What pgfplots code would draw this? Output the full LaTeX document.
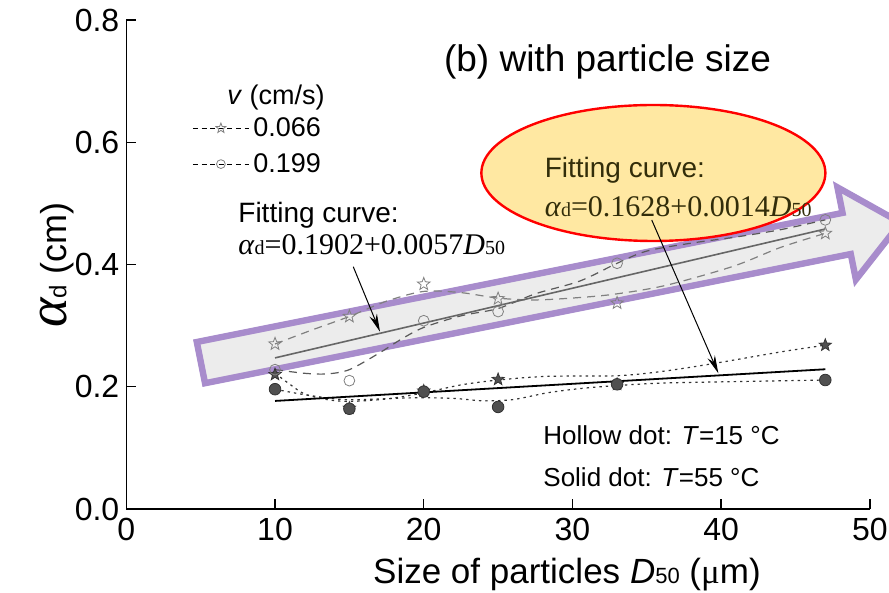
\documentclass[border=0pt]{standalone}
\usepackage{pgfplots}
\pgfplotsset{compat=1.18}
\usepackage{fontspec}
\setmainfont{Liberation Sans}
\newfontfamily\tnr{Liberation Serif}
\usetikzlibrary{arrows.meta}
\newcommand\fs[1]{\fontsize{#1}{#1}\selectfont}
\definecolor{purp}{RGB}{168,140,204}
\definecolor{arrowgray}{RGB}{236,236,236}
\definecolor{ellfill}{RGB}{255,232,162}
\definecolor{olivetext}{RGB}{50,45,10}
\definecolor{solidgray}{RGB}{80,80,80}
\pgfdeclareplotmark{ostar}{%
 \pgfpathmoveto{\pgfpointpolar{90}{\pgfplotmarksize}}%
 \pgfpathlineto{\pgfpointpolar{126}{0.42\pgfplotmarksize}}%
 \pgfpathlineto{\pgfpointpolar{162}{\pgfplotmarksize}}%
 \pgfpathlineto{\pgfpointpolar{198}{0.42\pgfplotmarksize}}%
 \pgfpathlineto{\pgfpointpolar{234}{\pgfplotmarksize}}%
 \pgfpathlineto{\pgfpointpolar{270}{0.42\pgfplotmarksize}}%
 \pgfpathlineto{\pgfpointpolar{306}{\pgfplotmarksize}}%
 \pgfpathlineto{\pgfpointpolar{342}{0.42\pgfplotmarksize}}%
 \pgfpathlineto{\pgfpointpolar{18}{\pgfplotmarksize}}%
 \pgfpathlineto{\pgfpointpolar{54}{0.42\pgfplotmarksize}}%
 \pgfpathclose\pgfusepathqstroke}
\pgfdeclareplotmark{fstar}{%
 \pgfpathmoveto{\pgfpointpolar{90}{\pgfplotmarksize}}%
 \pgfpathlineto{\pgfpointpolar{126}{0.42\pgfplotmarksize}}%
 \pgfpathlineto{\pgfpointpolar{162}{\pgfplotmarksize}}%
 \pgfpathlineto{\pgfpointpolar{198}{0.42\pgfplotmarksize}}%
 \pgfpathlineto{\pgfpointpolar{234}{\pgfplotmarksize}}%
 \pgfpathlineto{\pgfpointpolar{270}{0.42\pgfplotmarksize}}%
 \pgfpathlineto{\pgfpointpolar{306}{\pgfplotmarksize}}%
 \pgfpathlineto{\pgfpointpolar{342}{0.42\pgfplotmarksize}}%
 \pgfpathlineto{\pgfpointpolar{18}{\pgfplotmarksize}}%
 \pgfpathlineto{\pgfpointpolar{54}{0.42\pgfplotmarksize}}%
 \pgfpathclose\pgfusepathqfillstroke}
\begin{document}
\begin{tikzpicture}
\begin{axis}[
  set layers,
  scale only axis,
  width=371.8pt, height=244.5pt,
  xmin=0, xmax=50, ymin=0, ymax=0.8,
  axis x line*=bottom, axis y line*=left,
  axis line style={-, line width=0.8pt},
  xtick={0,10,20,30,40,50},
  ytick={0,0.2,0.4,0.6,0.8},
  tick align=inside,
  major tick length=5pt,
  tick style={line width=0.7pt, black},
  /pgf/number format/assume math mode=true,
  yticklabel style={/pgf/number format/.cd, fixed, fixed zerofill, precision=1},
  ticklabel style={font=\fs{16}},
  xticklabel style={yshift=-1pt},
  clip=false,
  legend style={at={(axis cs:4.418,0.648)}, anchor=north west, draw=none, fill=none,
    inner sep=0pt, font=\fs{13.5}, row sep=3pt, nodes={inner sep=2pt}},
  legend cell align=left,
  legend image code/.code={\draw[mark repeat=2,mark phase=2,#1] plot coordinates {(0pt,0pt) (14pt,0pt) (28pt,0pt)};},
]
% big decorative arrow behind the data
\begin{pgfonlayer}{axis background}
\draw[line width=3.2pt, draw=purp, fill=arrowgray, line join=miter, miter limit=4]
  (axis cs:5.295,0.2058) -- (axis cs:48.714,0.4171) -- (axis cs:49.057,0.3753) --
  (axis cs:52.064,0.4684) -- (axis cs:47.817,0.5262) -- (axis cs:48.160,0.4844) --
  (axis cs:4.741,0.2732) -- cycle;
\end{pgfonlayer}

% legend entries
\addlegendimage{black, dash pattern=on 2.5pt off 1.8pt, line width=0.5pt, mark=ostar, mark size=2.6pt, mark options={solid, draw=gray, line width=0.4pt}}
\addlegendentry{0.066}
\addlegendimage{black, dash pattern=on 2.5pt off 1.8pt, line width=0.5pt, mark=o, mark size=2.2pt, mark options={solid, draw=gray, line width=0.4pt}}
\addlegendentry{0.199}

% smoothed dashed curves (T = 15 C)
\addplot[forget plot, gray, line width=0.6pt, dash pattern=on 4pt off 3pt, smooth, tension=0.5] coordinates {
 (10,0.270) (12.5,0.293) (15,0.315) (17.5,0.340) (20,0.356) (22.5,0.354) (25,0.345)
 (27.5,0.342) (30.5,0.346) (33,0.352) (36.3,0.366) (40.8,0.397) (44,0.428) (47,0.451)};
\addplot[forget plot, black!65, line width=0.6pt, dash pattern=on 4pt off 3pt, smooth, tension=0.5] coordinates {
 (10,0.228) (12,0.222) (13.5,0.221) (15,0.228) (17,0.255) (18.5,0.278) (20,0.297)
 (22.5,0.316) (25,0.328) (27.5,0.352) (30.5,0.373) (33,0.402) (35,0.422) (38,0.435)
 (41,0.445) (44,0.457) (47,0.473)};
% smoothed dotted curves (T = 55 C)
\addplot[forget plot, black!80, line width=0.6pt, dash pattern=on 1.2pt off 2pt, smooth, tension=0.5] coordinates {
 (10,0.222) (11,0.204) (12,0.188) (13.5,0.179) (15,0.176) (17.5,0.180) (20,0.190)
 (22.5,0.203) (25,0.211) (28.3,0.217) (33,0.218) (36,0.225) (39.5,0.238) (44,0.257) (47,0.268)};
\addplot[forget plot, black!80, line width=0.6pt, dash pattern=on 1.2pt off 2pt, smooth, tension=0.5] coordinates {
 (10,0.196) (12,0.187) (14.6,0.179) (17,0.180) (19.5,0.182) (22,0.181) (24,0.177)
 (26,0.179) (28.3,0.190) (30.5,0.197) (33,0.202) (36,0.206) (40,0.208) (47,0.211)};

% fitting lines
\addplot[forget plot, black!60, line width=0.8pt] coordinates {(10,0.2472) (47,0.4581)};
\addplot[forget plot, black, line width=0.9pt] coordinates {(10,0.1768) (47,0.2286)};

% data markers
\addplot[forget plot, only marks, mark=fstar, mark size=3.2pt, mark options={draw=black!80, fill=solidgray, line width=0.4pt}] coordinates {
 (10,0.220) (15,0.165) (20,0.193) (25,0.212) (33,0.204) (47,0.268)};
\addplot[forget plot, only marks, mark=*, mark size=2.9pt, mark options={draw=black!80, fill=solidgray, line width=0.4pt}] coordinates {
 (10,0.196) (15,0.164) (20,0.192) (25,0.167) (33,0.204) (47,0.211)};
\addplot[forget plot, only marks, mark=ostar, mark size=3.3pt, mark options={draw=gray, line width=0.4pt}] coordinates {
 (10,0.270) (15,0.315) (20,0.368) (25,0.344) (33,0.337) (47,0.451)};
\addplot[forget plot, only marks, mark=o, mark size=2.7pt, mark options={draw=gray, line width=0.4pt}] coordinates {
 (10,0.228) (15,0.210) (20,0.308) (25,0.323) (33,0.402) (47,0.473)};

% ellipse callout
\draw[red, line width=1.2pt, fill=ellfill] (axis cs:35.44,0.5497) ellipse [x radius=86pt, y radius=34pt];
\node[anchor=west, inner sep=0pt, text=olivetext] at (axis cs:28.11,0.5546) {\fs{14}Fitting curve:};
\node[anchor=west, inner sep=0pt, text=olivetext] at (axis cs:28.11,0.4941) {\tnr\fs{15}\textit{α}{\fs{10}d}=0.1628+0.0014\textit{D}{\fs{10}50}};
\draw[-{Stealth[length=9pt,width=4pt]}, line width=0.5pt] (axis cs:35.33,0.4728) -- (axis cs:39.81,0.2220);

% left annotation
\node[anchor=west, inner sep=0pt] at (axis cs:7.511,0.481) {\fs{14}Fitting curve:};
\node[anchor=west, inner sep=0pt] at (axis cs:7.511,0.4319) {\tnr\fs{15}\textit{α}{\fs{10}d}=0.1902+0.0057\textit{D}{\fs{10}50}};
\draw[-{Stealth[length=9pt,width=4pt]}, line width=0.5pt] (axis cs:15.26,0.3964) -- (axis cs:17.06,0.290);

% title and notes
\node[inner sep=0pt] at (axis cs:32.36,0.7313) {\fs{18.5}(b) with particle size};
\node[inner sep=0pt] at (axis cs:10.07,0.674) {\fs{13.5}\textit{v} (cm/s)};
\node[anchor=west, inner sep=0pt] at (axis cs:28.02,0.1211) {\fs{13}Hollow dot: \textit{T}=15 °C};
\node[anchor=west, inner sep=0pt] at (axis cs:28.02,0.0524) {\fs{13}Solid dot: \textit{T}=55 °C};

% axis labels
\node[inner sep=0pt] at (axis cs:29.63,-0.108) {\fs{17.5}Size of particles \textit{D}{\fs{11}50} ({\tnr μ}m)};
\node[inner sep=0pt, rotate=90] at (axis cs:-4.66,0.399) {\fs{18}{\tnr\itshape\fs{28}α}{\fs{12}d} (cm)};

\coordinate (bbll) at (axis cs:-8.4925,-0.13579);
\coordinate (bbur) at (axis cs:51.284,0.83272);
\end{axis}
\pgfresetboundingbox
\path (bbll) rectangle (bbur);
\end{tikzpicture}
\end{document}
